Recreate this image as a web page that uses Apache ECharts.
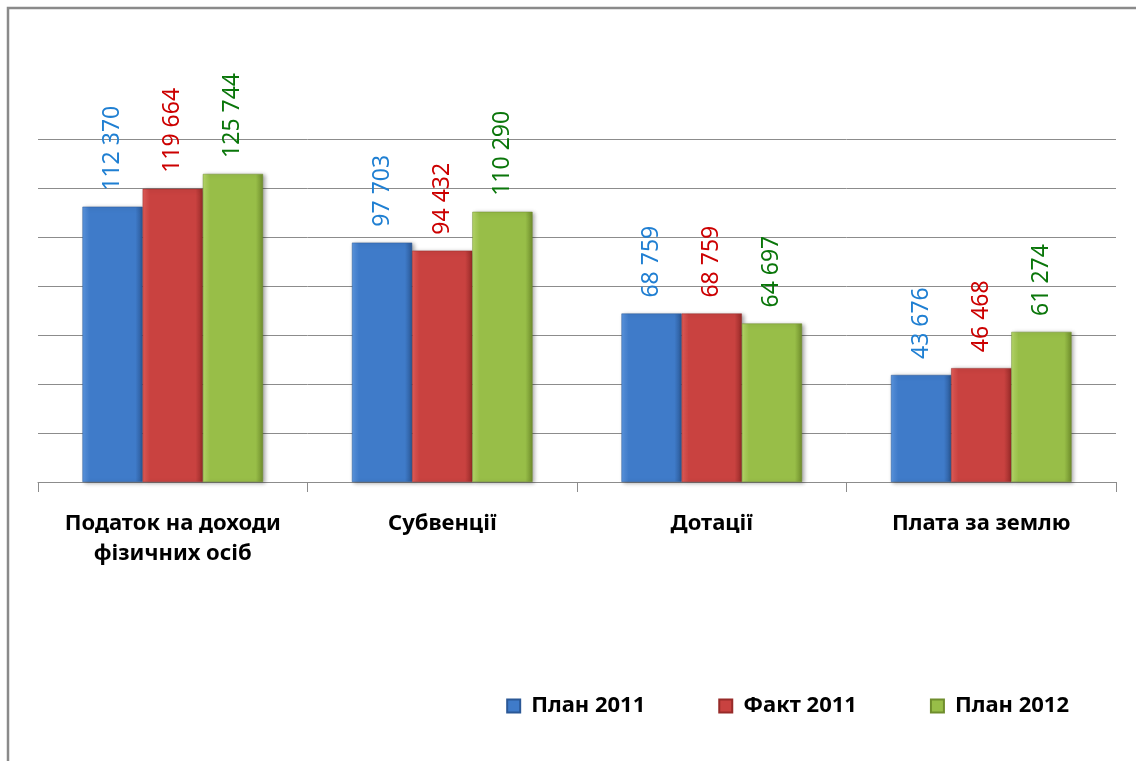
<!DOCTYPE html>
<html>
<head>
<meta charset="utf-8">
<script src="https://cdn.jsdelivr.net/npm/echarts@6/dist/echarts.min.js"></script>
<style>
  html, body { margin: 0; padding: 0; background: #fff; }
  #chart { width: 1136px; height: 761px; }
</style>
</head>
<body>
<div id="chart"></div>
<script>
const categories = ['Податок на доходи\nфізичних осіб', 'Субвенції', 'Дотації', 'Плата за землю']
const seriesNames = ['План 2011', 'Факт 2011', 'План 2012']
const plan2011 = [112370, 97703, 68759, 43676]
const fact2011 = [119664, 94432, 68759, 46468]
const plan2012 = [125744, 110290, 64697, 61274]

const FONT = '"Noto Sans", "DejaVu Sans", sans-serif'

// light / mid / dark shades for the bevel look
const shades = [
  ['#5c97e2', '#3f7bc9', '#2b5896'],
  ['#e45d59', '#c94240', '#972b29'],
  ['#b8da6a', '#98be48', '#6f8d2d'],
]
const labelColors = ['#1f7fd2', '#cc0000', '#0a760a']

const fmt = v => String(v).replace(/\B(?=(\d{3})+(?!\d))/g, ' ')

const barGradient = s => new echarts.graphic.LinearGradient(0, 0, 1, 0, [
  { offset: 0, color: s[0] },
  { offset: 0.12, color: s[1] },
  { offset: 0.88, color: s[1] },
  { offset: 1, color: s[2] },
])

const makeSeries = (name, data, i) => ({
  name,
  type: 'bar',
  data,
  barGap: '0%',
  barCategoryGap: '33%',
  itemStyle: {
    color: barGradient(shades[i]),
    borderColor: shades[i][2],
    borderWidth: 0.5,
    shadowColor: 'rgba(0,0,0,0.35)',
    shadowBlur: 4,
    shadowOffsetX: 2,
    shadowOffsetY: 1,
  },
  label: {
    show: true,
    position: 'top',
    rotate: 90,
    align: 'left',
    verticalAlign: 'middle',
    distance: 16,
    color: labelColors[i],
    fontFamily: FONT,
    fontSize: 23,
    formatter: p => fmt(p.value),
  },
})

const chart = echarts.init(document.getElementById('chart'))
chart.setOption({
  animation: false,
  backgroundColor: '#fff',
  grid: { left: 38, right: 20, top: 139, bottom: 279 },
  legend: {
    data: seriesNames,
    icon: 'rect',
    right: 62,
    top: 690,
    itemWidth: 13,
    itemHeight: 13,
    itemGap: 73,
    textStyle: {
      fontFamily: FONT,
      fontSize: 22,
      fontWeight: 'bold',
      color: '#000',
      padding: [0, 0, 0, 6],
    },
  },
  xAxis: {
    type: 'category',
    data: categories,
    axisLine: { lineStyle: { color: '#8c8c8c', width: 1 } },
    axisTick: { show: true, interval: 0, length: 10, lineStyle: { color: '#8c8c8c' } },
    axisLabel: {
      interval: 0,
      margin: 27,
      fontFamily: FONT,
      fontSize: 22,
      fontWeight: 'bold',
      color: '#000',
      lineHeight: 30,
    },
  },
  yAxis: {
    type: 'value',
    min: 0,
    max: 140000,
    interval: 20000,
    axisLabel: { show: false },
    axisLine: { show: false },
    axisTick: { show: false },
    splitLine: { lineStyle: { color: '#8c8c8c', width: 1 } },
  },
  graphic: [
    {
      type: 'polyline',
      shape: { points: [[8, 761], [8, 8], [1136, 8]] },
      style: { stroke: '#8a8a8a', lineWidth: 2.5, fill: null },
    },
  ],
  series: [
    makeSeries(seriesNames[0], plan2011, 0),
    makeSeries(seriesNames[1], fact2011, 1),
    makeSeries(seriesNames[2], plan2012, 2),
  ],
})
</script>
</body>
</html>
